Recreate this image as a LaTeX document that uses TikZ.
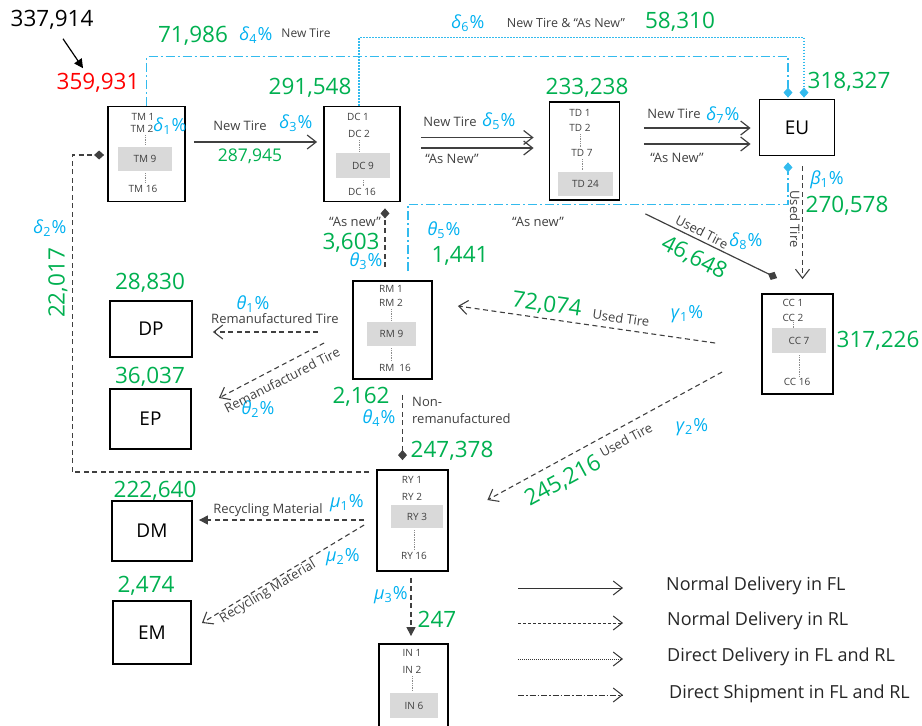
\documentclass[tikz,border=0pt]{standalone}
\usepackage{fontspec}
\setmainfont{Open Sans}
\usepackage{tikz}
\usetikzlibrary{arrows.meta,positioning}
\definecolor{qgreen}{HTML}{00B050}
\definecolor{qblue}{HTML}{00B0F0}
\definecolor{lnblue}{HTML}{33BBEE}
\definecolor{ink}{HTML}{404040}
\newcommand{\fsz}[1]{\fontsize{#1}{#1}\selectfont}
\newcommand{\pc}[2]{\textit{#1}\textsubscript{#2}\kern0.5pt\%}

\begin{document}
\begin{tikzpicture}[
    x=1pt,y=-1pt,
    unit/.style={draw,line width=1.8pt,inner sep=0pt,font=\fsz{19}},
    item/.style={font=\fsz{10},text=ink,inner sep=0.5pt},
    hl/.style={item,fill=black!15,minimum height=24pt},
    itemdots/.style={densely dotted,black!45,line width=0.7pt,shorten <=2pt,shorten >=2pt},
    qty/.style={text=qgreen,font=\fsz{22.5},inner sep=0pt},
    pct/.style={text=qblue,font=\fsz{18},inner sep=0pt},
    lbl/.style={text=ink,font=\fsz{13},inner sep=0pt},
    lgd/.style={anchor=west,font=\fsz{18},text=black!85,inner sep=0pt},
    fl/.style={ink,line width=1.2pt},
    rl/.style={ink,line width=1.1pt,dash pattern=on 5pt off 3.5pt},
    dd/.style={lnblue,line width=1.1pt,dash pattern=on 1.5pt off 1.5pt},
    ds/.style={lnblue,line width=1.1pt,dash pattern=on 9pt off 3pt on 2pt off 3pt},
    barb/.style={-{Straight Barb[length=9pt,width=14pt]}},
    diam/.style={-{Diamond[length=10pt,width=9pt]}},
    tri/.style={-{Triangle[length=9pt,width=9pt]}}
  ]
    \useasboundingbox (0,0) rectangle (922,726);
    \clip (0,0) rectangle (922,726);

    % facilities
    \node[unit,minimum width=77pt,minimum height=95pt] (tm) at (146.5,154) {};
    \node[item] (tm1) at (143,117) {TM 1};
    \node[item] (tm2) at (142,129) {TM 2};
    \node[hl,minimum width=54pt] (tm9) at (145,159) {TM 9};
    \node[item] (tm16) at (143,189) {TM 16};

    \node[unit,minimum width=76pt,minimum height=95pt] (dc) at (362,154) {};
    \node[item] (dc1) at (358,117) {DC 1};
    \node[item] (dc2) at (359,134) {DC 2};
    \node[hl,minimum width=54pt,minimum height=25pt] (dc9) at (363,165.5) {DC 9};
    \node[item] (dc16) at (362,192) {DC 16};

    \node[unit,minimum width=70pt,minimum height=98pt] (td) at (584.5,151) {};
    \node[item] (td1) at (580,113) {TD 1};
    \node[item] (td2) at (580,128) {TD 2};
    \node[item] (td7) at (582,153) {TD 7};
    \node[hl,minimum width=55pt] (td24) at (585.5,184) {TD 24};

    \node[unit,minimum width=75pt,minimum height=56pt] (eu) at (797,127.5) {EU};

    \node[unit,minimum width=71pt,minimum height=100pt] (cc) at (797.5,344) {};
    \node[item] (cc1) at (793,303) {CC 1};
    \node[item] (cc2) at (793,318) {CC 2};
    \node[hl,minimum width=54pt,minimum height=25pt] (cc7) at (799,340.5) {CC 7};
    \node[item] (cc16) at (797,382) {CC 16};

    \node[unit,minimum width=79pt,minimum height=98pt] (rm) at (392.5,330) {};
    \node[item] (rm1) at (391,289) {RM 1};
    \node[item] (rm2) at (391,303) {RM 2};
    \node[hl,minimum width=49pt] (rm9) at (391.5,334) {RM 9};
    \node[item] (rm16) at (395,368) {RM\enspace16};

    \node[unit,minimum width=71pt,minimum height=101pt] (ry) at (412.5,520.5) {};
    \node[item] (ry1) at (412,480) {RY 1};
    \node[item] (ry2) at (412,497) {RY 2};
    \node[hl,minimum width=52pt,minimum height=23pt] (ry3) at (417,516.5) {RY 3};
    \node[item] (ry16) at (414,556) {RY 16};

    \node[unit,minimum width=69pt,minimum height=92pt] (in) at (413.5,690) {};
    \node[item] (in1) at (412,653) {IN 1};
    \node[item] (in2) at (412,670) {IN 2};
    \node[hl,minimum width=48pt,minimum height=25pt] (in6) at (414,705.5) {IN 6};

    \node[unit,minimum width=82pt,minimum height=56pt] (dp) at (151,329) {DP};
    \node[unit,minimum width=81pt,minimum height=60pt] (ep) at (150.5,419) {EP};
    \node[unit,minimum width=80pt,minimum height=60pt] (dm) at (152,531) {DM};
    \node[unit,minimum width=78pt,minimum height=63pt] (em) at (152,632.5) {EM};

    \draw[itemdots] (tm2.south -| tm9) -- (tm9.north);
    \draw[itemdots] (tm9.south) -- (tm9.south |- tm16.north);
    \draw[itemdots] (dc2.south) -- (dc2.south |- dc9.north);
    \draw[itemdots] (dc9.south) -- (dc9.south |- dc16.north);
    \draw[itemdots] (td2.south) -- (td2.south |- td7.north);
    \draw[itemdots] (td7.south) -- (td7.south |- td24.north);
    \draw[itemdots,shorten <=0pt,shorten >=0pt] (cc2.south) -- (cc2.south |- cc7.north);
    \draw[itemdots] (cc7.south) -- (cc7.south |- cc16.north);
    \draw[itemdots] (rm2.south) -- (rm2.south |- rm9.north);
    \draw[itemdots] (rm9.south) -- (rm9.south |- rm16.north);
    \draw[itemdots] ([xshift=-3pt]ry3.south) -- ([xshift=-3pt]ry3.south |- ry16.north);
    \draw[itemdots] (in2.south) -- (in2.south |- in6.north);

    % quantities
    \node[qty,text=black] (sup) at (52,20) {337,914};
    \node[qty,text=red] (tot) at (98,83) {359,931};
    \node[qty] (q4) at (193,36) {71,986};
    \node[qty] (qdc) at (310,88) {291,548};
    \node[qty] (qtd) at (587,88) {233,238};
    \node[qty] (q6) at (680,22) {58,310};
    \node[qty] (qeu) at (849,82) {318,327};
    \node[qty] (qb1) at (847,206) {270,578};
    \node[qty,rotate=-27] (q8) at (694,258) {46,648};
    \node[qty] (qcc) at (878,341) {317,226};
    \node[qty,rotate=-8] (qg1) at (547,305) {72,074};
    \node[qty,rotate=28.5] (qg2) at (563,481) {245,216};
    \node[qty] (qt5) at (460,256) {1,441};
    \node[qty] (qt3) at (351,243) {3,603};
    \node[qty] (qt4) at (361,397) {2,162};
    \node[qty] (qry) at (452,451) {247,378};
    \node[qty] (qm3) at (437,619) {247};
    \node[qty] (qdp) at (150,283) {28,830};
    \node[qty] (qep) at (150,377) {36,037};
    \node[qty] (qdm) at (155,491) {222,640};
    \node[qty] (qem) at (146,586) {2,474};
    \node[qty,rotate=90] (qd2) at (58,283) {22,017};
    \node[qty,font=\fsz{17.5}] (qd3) at (250,156) {287,945};

    % shares
    \node[pct] (d1) at (170,126) {\pc{δ}{1}};
    \node[pct] (d2) at (50,228) {\pc{δ}{2}};
    \node[pct] (d3) at (296,123) {\pc{δ}{3}};
    \node[pct] (d4) at (256,35) {\pc{δ}{4}};
    \node[pct] (d5) at (499,121) {\pc{δ}{5}};
    \node[pct] (d6) at (468,23) {\pc{δ}{6}};
    \node[pct] (d7) at (723,115) {\pc{δ}{7}};
    \node[pct] (d8) at (746,241) {\pc{δ}{8}};
    \node[pct] (b1) at (827,180) {\pc{β}{1}};
    \node[pct] (g1) at (687,314) {\pc{γ}{1}};
    \node[pct] (g2) at (692,427) {\pc{γ}{2}};
    \node[pct] (t1) at (253,304) {\pc{θ}{1}};
    \node[pct] (t2) at (258,409) {\pc{θ}{2}};
    \node[pct] (t3) at (366,261) {\pc{θ}{3}};
    \node[pct] (t4) at (379,418) {\pc{θ}{4}};
    \node[pct] (t5) at (444,230) {\pc{θ}{5}};
    \node[pct] (m1) at (347,503) {\pc{μ}{1}};
    \node[pct] (m2) at (343,557) {\pc{μ}{2}};
    \node[pct] (m3) at (391,595) {\pc{μ}{3}};

    % flow labels
    \node[lbl] (l1) at (240,126) {New Tire};
    \node[lbl,font=\fsz{12}] (l4) at (306,33) {New Tire};
    \node[lbl,font=\fsz{12.5}] (l6) at (566,23) {New Tire \& ``As New''};
    \node[lbl] (l5a) at (450,122) {New Tire};
    \node[lbl] (l5b) at (452,159) {``As New''};
    \node[lbl] (l7a) at (674,114) {New Tire};
    \node[lbl] (l7b) at (677,158) {``As New''};
    \node[lbl] (lt5) at (538,222) {``As new''};
    \node[lbl] (lt3) at (355,222) {``As new''};
    \node[lbl,rotate=-90] (lb1) at (795,219) {Used Tire};
    \node[lbl,rotate=-27] (ld8) at (702,232) {Used Tire};
    \node[lbl,rotate=-8] (lg1) at (621,318) {Used Tire};
    \node[lbl,rotate=28.5] (lg2) at (626,440) {Used Tire};
    \node[lbl] (lr1) at (275,319) {Remanufactured Tire};
    \node[lbl,rotate=27] (lr2) at (282,380) {Remanufactured Tire};
    \node[lbl,anchor=west,align=left,font=\fontsize{13}{17}\selectfont] (lt4) at (412,410) {Non-\\remanufactured};
    \node[lbl] (lm1) at (268,510) {Recycling Material};
    \node[lbl,rotate=31] (lm2) at (268,592) {Recycling Material};

    % forward flows
    \draw[black,line width=1.2pt,tri] ([shift={(11,9)}]sup.south) -- ([shift={(-15,-5)}]tot.north);
    \draw[fl,barb,shorten <=8pt,shorten >=6pt] ([yshift=12pt]tm.east) -- ([yshift=12pt]tm.east -| dc.west);
    \draw[fl,barb,shorten <=20pt,shorten >=15pt] ([yshift=16.5pt]dc.east) -- ([yshift=16.5pt]dc.east -| td.west);
    \draw[fl,barb,shorten <=20pt,shorten >=15pt] ([yshift=6pt]dc.east) -- ([yshift=6pt]dc.east -| td.west);
    \draw[fl,barb,shorten <=23.5pt,shorten >=8pt] ([yshift=23pt]td.east) -- ([yshift=23pt]td.east -| eu.west);
    \draw[fl,barb,shorten <=23.5pt,shorten >=8pt] ([yshift=7pt]td.east) -- ([yshift=7pt]td.east -| eu.west);
    \draw[ds,diam,shorten >=1pt] (tm.north) -- ++(0,-49) -| ([xshift=-9pt]eu.north);
    \draw[dd,diam,shorten >=1pt] ([xshift=-3pt]dc.north) -- ++(0,-68) -| ([xshift=7pt]eu.north);
    \draw[fl,diam] ([shift={(25,13)}]td.south east) -- ([shift={(16,-15)}]cc.north west);

    % reverse flows
    \draw[rl,barb,shorten <=10pt,shorten >=14pt] ([xshift=5.5pt]eu.south) -- ([xshift=5.5pt]eu.south |- cc.north);
    \draw[ds,diam,shorten <=9pt,shorten >=6pt] ([xshift=15.5pt]rm.north) -- ++(0,-76) -| ([xshift=-9pt]eu.south);
    \draw[rl,barb] ([shift={(-46,-1)}]cc.west) -- ([shift={(25,-24)}]rm.east);
    \draw[rl,barb] ([shift={(-39,28)}]cc.west) -- ([shift={(38.5,-20.5)}]ry.east);
    \draw[rl,diam,shorten <=13pt,shorten >=6pt] ([xshift=-7.5pt]rm.north) -- ([xshift=-7.5pt]rm.north |- dc.south);
    \draw[rl,diam,shorten <=15pt,shorten >=9pt] ([xshift=10pt]rm.south) -- ([xshift=-10pt]ry.north);
    \draw[rl,barb] ([shift={(-34,2)}]rm.west) -- ([shift={(20,3)}]dp.east);
    \draw[rl,barb] ([shift={(-28,13)}]rm.west) -- ([shift={(27,-21)}]ep.east);
    \draw[rl,tri] ([shift={(-12,-0.5)}]ry.west) -- ([shift={(6,-11)}]dm.east);
    \draw[rl,barb] ([shift={(-12,4.5)}]ry.west) -- ([shift={(10,-9.5)}]em.east);
    \draw[rl,tri] ([shift={(-1.5,6)}]ry.south) -- ([shift={(-2.5,-7)}]in.north);
    \draw[rl,diam] ([shift={(-7,-48.5)}]ry.west) -- ++(-297,0) |- ([shift={(-3,1)}]tm.west);

    % legend
    \node[lgd] (lg1) at (666,586) {Normal Delivery in FL};
    \node[lgd] (lg2) at (667,621) {Normal Delivery in RL};
    \node[lgd] (lg3) at (667,657) {Direct Delivery in FL and RL};
    \node[lgd] (lg4) at (669,694) {Direct Shipment in FL and RL};
    \draw[black!80,line width=1pt,barb] ([shift={(-148,2)}]lg1.west) -- ([shift={(-43,2)}]lg1.west);
    \draw[black!80,line width=1pt,dash pattern=on 3pt off 2pt,barb] ([shift={(-149,2)}]lg2.west) -- ([shift={(-44,2)}]lg2.west);
    \draw[black!80,line width=1pt,dash pattern=on 1pt off 1pt,barb] ([shift={(-149,2)}]lg3.west) -- ([shift={(-44,2)}]lg3.west);
    \draw[black!80,line width=1pt,dash pattern=on 6pt off 2pt on 1.5pt off 2pt,barb] ([shift={(-151,1)}]lg4.west) -- ([shift={(-46,1)}]lg4.west);
\end{tikzpicture}
\end{document}
